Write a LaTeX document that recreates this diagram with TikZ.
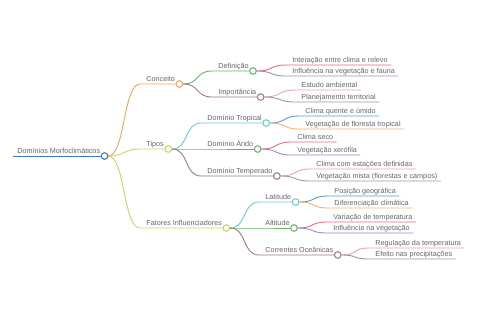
\documentclass[tikz,border=0pt]{standalone}
\usepackage{fontspec}
\setmainfont{Liberation Sans}
\usepackage{tikz}
\usetikzlibrary{positioning}
\definecolor{RootBlue} {RGB}{59, 120, 196}
\definecolor{BrOrange} {RGB}{240, 165,  90}
\definecolor{BrLime}   {RGB}{200, 212,  95}
\definecolor{BrGreen}  {RGB}{105, 180, 105}
\definecolor{BrMauve}  {RGB}{160, 122, 135}
\definecolor{BrCyan}   {RGB}{105, 200, 220}
\definecolor{LfRed}    {RGB}{230, 105, 120}
\definecolor{LfViolet} {RGB}{150, 140, 210}
\definecolor{LfPink}   {RGB}{235, 155, 190}
\definecolor{LfGray}   {RGB}{155, 150, 165}
\definecolor{LfBlue}   {RGB}{ 85, 150, 210}
\definecolor{LfOrange} {RGB}{245, 178, 105}
\definecolor{TextGray} {RGB}{100, 100, 100}

\begin{document}
\begin{tikzpicture}[x=1bp, y=-1bp, line width=0.9bp,
    lbl/.style={font=\fontsize{7.25}{9}\selectfont, text=TextGray, inner sep=0pt, anchor=base west},
    dot/.style={circle, draw=#1, fill=white, line width=0.9bp, minimum size=6.5bp, inner sep=0pt},
    curvy/.style={to path={.. controls +(17,0) and +(-17,0) .. (\tikztotarget)}}]
  \useasboundingbox (0,0) rectangle (480,320);

  % raiz
  \node[lbl] (rootT) at (17,153.5) {Domínios Morfoclimáticos};
  \node[dot=RootBlue] (root) at ([xshift=4bp,yshift=-2.5bp]rootT.base east) {};
  \coordinate (rootS) at ([xshift=-4bp,yshift=-2.5bp]rootT.base west);

  % primeiro nivel
  \node[lbl] (concT) at (146,81.5) {Conceito};
  \node[dot=BrOrange] (conc) at ([xshift=4bp,yshift=-2.5bp]concT.base east) {};
  \coordinate (concS) at ([xshift=-6bp,yshift=-2.5bp]concT.base west);
  \node[lbl] (tipT) at (146,146.5) {Tipos};
  \node[dot=BrLime] (tip) at ([xshift=4bp,yshift=-2.5bp]tipT.base east) {};
  \coordinate (tipS) at ([xshift=-6bp,yshift=-2.5bp]tipT.base west);
  \node[lbl] (fatT) at (146,225.5) {Fatores Influenciadores};
  \node[dot=BrLime] (fat) at ([xshift=4bp,yshift=-2.5bp]fatT.base east) {};
  \coordinate (fatS) at ([xshift=-6bp,yshift=-2.5bp]fatT.base west);

  % segundo nivel
  \node[lbl] (defT) at (218,68.5) {Definição};
  \node[dot=BrGreen] (def) at ([xshift=4bp,yshift=-2.5bp]defT.base east) {};
  \coordinate (defS) at ([xshift=-6bp,yshift=-2.5bp]defT.base west);
  \node[lbl] (impT) at (218,94.5) {Importância};
  \node[dot=BrMauve] (imp) at ([xshift=4bp,yshift=-2.5bp]impT.base east) {};
  \coordinate (impS) at ([xshift=-6bp,yshift=-2.5bp]impT.base west);
  \node[lbl] (tropT) at (207,120.5) {Domínio Tropical};
  \node[dot=BrCyan] (trop) at ([xshift=4bp,yshift=-2.5bp]tropT.base east) {};
  \coordinate (tropS) at ([xshift=-6bp,yshift=-2.5bp]tropT.base west);
  \node[lbl] (aridT) at (207,146.5) {Domínio Árido};
  \node[dot=BrGreen] (arid) at ([xshift=4bp,yshift=-2.5bp]aridT.base east) {};
  \coordinate (aridS) at ([xshift=-6bp,yshift=-2.5bp]aridT.base west);
  \node[lbl] (tempT) at (207,173.5) {Domínio Temperado};
  \node[dot=BrMauve] (temp) at ([xshift=4bp,yshift=-2.5bp]tempT.base east) {};
  \coordinate (tempS) at ([xshift=-6bp,yshift=-2.5bp]tempT.base west);
  \node[lbl] (latT) at (265,199.5) {Latitude};
  \node[dot=BrCyan] (lat) at ([xshift=4bp,yshift=-2.5bp]latT.base east) {};
  \coordinate (latS) at ([xshift=-6bp,yshift=-2.5bp]latT.base west);
  \node[lbl] (altT) at (265,225.5) {Altitude};
  \node[dot=BrGreen] (alt) at ([xshift=4bp,yshift=-2.5bp]altT.base east) {};
  \coordinate (altS) at ([xshift=-6bp,yshift=-2.5bp]altT.base west);
  \node[lbl] (corT) at (265,252.5) {Correntes Oceânicas};
  \node[dot=BrMauve] (cor) at ([xshift=4bp,yshift=-2.5bp]corT.base east) {};
  \coordinate (corS) at ([xshift=-6bp,yshift=-2.5bp]corT.base west);

  % folhas
  \node[lbl] (def1) at (292,62.5) {Interação entre clima e relevo};
  \node[lbl] (def2) at (292,73.5) {Influência na vegetação e fauna};
  \node[lbl] (imp1) at (301,87.5) {Estudo ambiental};
  \node[lbl] (imp2) at (301,99.5) {Planejamento territorial};
  \node[lbl] (trop1) at (305,113.5) {Clima quente e úmido};
  \node[lbl] (trop2) at (305,126.5) {Vegetação de floresta tropical};
  \node[lbl] (arid1) at (297,139.5) {Clima seco};
  \node[lbl] (arid2) at (297,152.5) {Vegetação xerófila};
  \node[lbl] (temp1) at (316,166.5) {Clima com estações definidas};
  \node[lbl] (temp2) at (316,178.5) {Vegetação mista (florestas e campos)};
  \node[lbl] (lat1) at (334,193.5) {Posição geográfica};
  \node[lbl] (lat2) at (334,205.5) {Diferenciação climática};
  \node[lbl] (alt1) at (333,219.5) {Variação de temperatura};
  \node[lbl] (alt2) at (333,230.5) {Influência na vegetação};
  \node[lbl] (cor1) at (375,245.5) {Regulação da temperatura};
  \node[lbl] (cor2) at (375,256.5) {Efeito nas precipitações};
  \foreach \leaf in {def1,def2,imp1,imp2,trop1,trop2,arid1,arid2,temp1,temp2,lat1,lat2,alt1,alt2,cor1,cor2}{
    \coordinate (\leaf S) at ([xshift=-6bp,yshift=-2.5bp]\leaf.base west);
    \coordinate (\leaf E) at ([xshift=3bp,yshift=-2.5bp]\leaf.base east);
  }

  % ligacoes
  \draw[RootBlue] (rootS) -- (root.west);
  \draw[BrOrange] (root.east) to[curvy] (concS) -- (conc.west);
  \draw[BrLime] (root.east) to[curvy] (tipS) -- (tip.west);
  \draw[BrLime] (root.east) to[curvy] (fatS) -- (fat.west);

  \draw[BrGreen] (conc.east) to[curvy] (defS) -- (def.west);
  \draw[BrMauve] (conc.east) to[curvy] (impS) -- (imp.west);
  \draw[BrCyan] (tip.east) to[curvy] (tropS) -- (trop.west);
  \draw[BrGreen] (tip.east) to[curvy] (aridS) -- (arid.west);
  \draw[BrMauve] (tip.east) to[curvy] (tempS) -- (temp.west);
  \draw[BrCyan] (fat.east) to[curvy] (latS) -- (lat.west);
  \draw[BrGreen] (fat.east) to[curvy] (altS) -- (alt.west);
  \draw[BrMauve] (fat.east) to[curvy] (corS) -- (cor.west);

  \draw[LfRed] (def.east) to[curvy] (def1S) -- (def1E);
  \draw[LfViolet] (def.east) to[curvy] (def2S) -- (def2E);
  \draw[LfPink] (imp.east) to[curvy] (imp1S) -- (imp1E);
  \draw[LfGray] (imp.east) to[curvy] (imp2S) -- (imp2E);
  \draw[LfBlue] (trop.east) to[curvy] (trop1S) -- (trop1E);
  \draw[LfOrange] (trop.east) to[curvy] (trop2S) -- (trop2E);
  \draw[LfRed] (arid.east) to[curvy] (arid1S) -- (arid1E);
  \draw[LfViolet] (arid.east) to[curvy] (arid2S) -- (arid2E);
  \draw[LfPink] (temp.east) to[curvy] (temp1S) -- (temp1E);
  \draw[LfGray] (temp.east) to[curvy] (temp2S) -- (temp2E);
  \draw[LfBlue] (lat.east) to[curvy] (lat1S) -- (lat1E);
  \draw[LfOrange] (lat.east) to[curvy] (lat2S) -- (lat2E);
  \draw[LfRed] (alt.east) to[curvy] (alt1S) -- (alt1E);
  \draw[LfViolet] (alt.east) to[curvy] (alt2S) -- (alt2E);
  \draw[LfPink] (cor.east) to[curvy] (cor1S) -- (cor1E);
  \draw[LfGray] (cor.east) to[curvy] (cor2S) -- (cor2E);

  % circulos por cima das linhas
  \foreach \d/\c in {root/RootBlue,conc/BrOrange,tip/BrLime,fat/BrLime,def/BrGreen,imp/BrMauve,
      trop/BrCyan,arid/BrGreen,temp/BrMauve,lat/BrCyan,alt/BrGreen,cor/BrMauve}
    \node[dot=\c] at (\d) {};
\end{tikzpicture}
\end{document}
